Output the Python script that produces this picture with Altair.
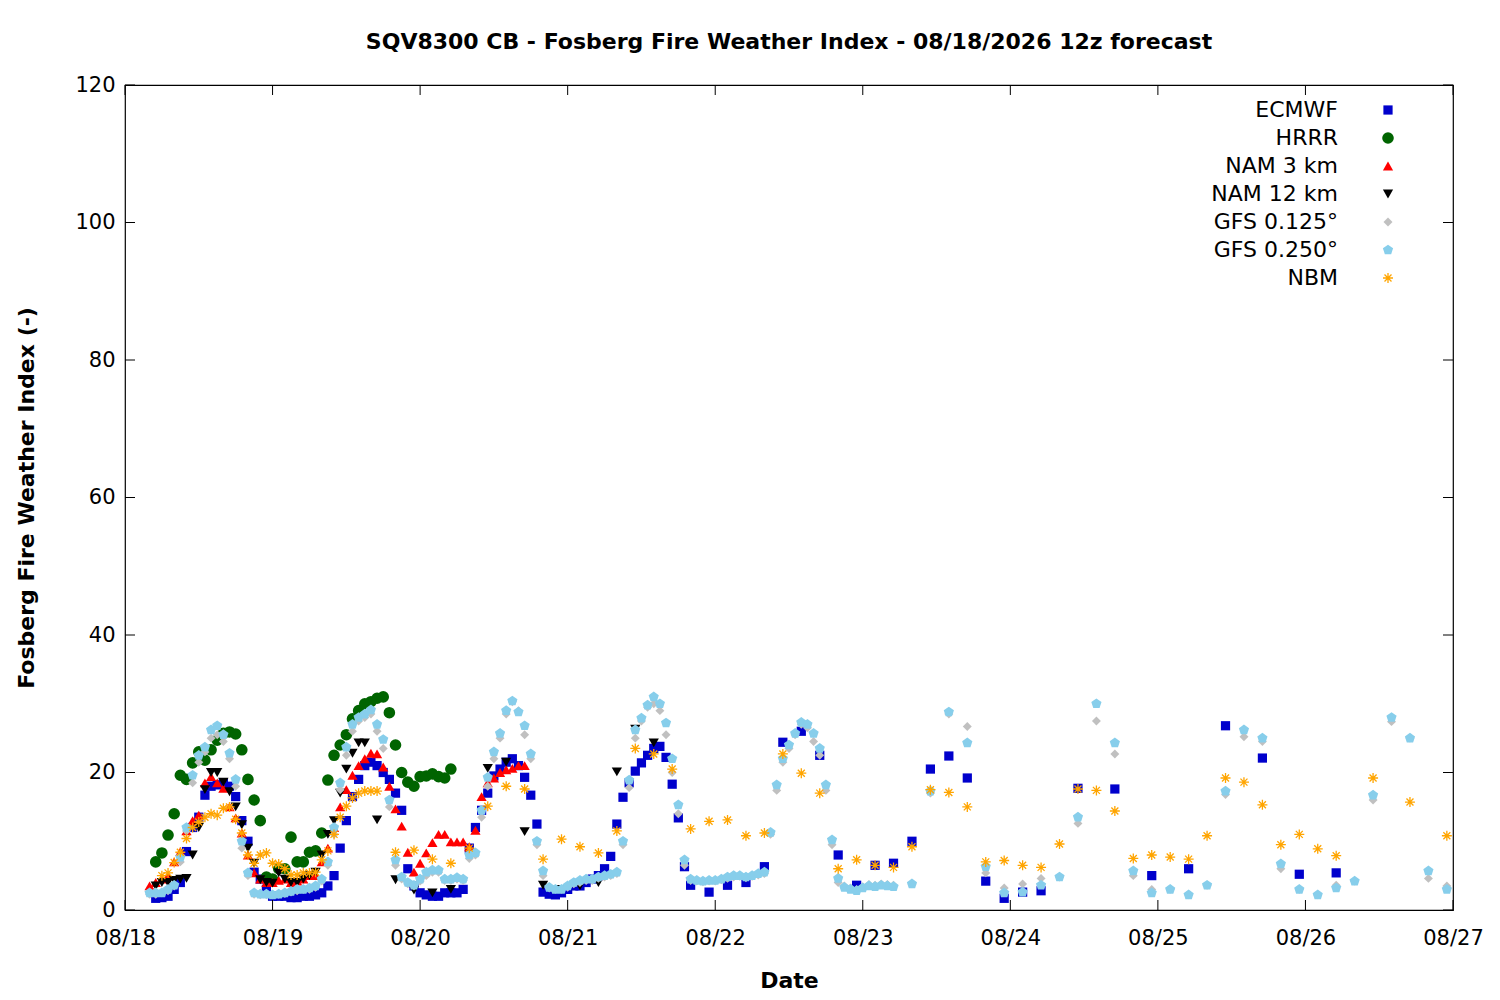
import pandas as pd
import altair as alt

# Hours after 08/18 00z and Fosberg values
series_names = ["ECMWF", "HRRR", "NAM 3 km", "NAM 12 km", "GFS 0.125°", "GFS 0.250°", "NBM"]
colors = ["#0000cc", "#006400", "#ff0000", "#000000", "#c0c0c0", "#87ceeb", "#ffa500"]

ecmwf_hours = list(range(5, 93)) + [95, 98, 101, 104, 107, 110, 113, 116, 119, 122, 125, 128, 131, 134,
                                    137, 140, 143, 146, 149, 155, 161, 167, 173, 179, 185, 191, 197]
ecmwf_vals = [1.7, 1.8, 2, 3, 4, 8.5, 12, 13.5, 16.7, 18, 18.2, 18.5, 18, 16.5, 13, 10, 5.5, 4.5, 3,
              2, 2, 2, 1.8, 1.8, 2, 2, 2.2, 2.5, 3.5,
              5, 9, 13, 16.5, 19, 21, 21.5, 21, 20, 19, 17, 14.5, 6, 3.5,
              2.5, 2.2, 2, 2, 2.5, 2.5, 2.5, 3,
              9, 12, 14.5, 17, 19.5, 20.5, 21.5, 22, 21, 19.3, 16.7, 12.5,
              2.6, 2.3, 2.2, 2.5, 3, 3.5, 3.5, 4, 4.5, 5,
              6, 7.8, 12.5, 16.4, 18.5, 20.2, 21.4, 22.5, 23.5, 23.8, 22.2, 18.3, 13.4, 6.3, 3.6,
              2.6, 3.6, 4, 6.3, 24.4, 26, 22.5, 8, 3.6, 6.5, 6.8, 10, 20.5, 22.4,
              19.2, 4.2, 1.7, 2.6, 2.8, 17.7, 17.6, 5, 6, 26.8, 22.1, 5.2, 5.4]

hrrr_hours = list(range(5, 54))
hrrr_vals = [7, 8.3, 10.9, 14, 19.6, 19, 21.4, 23, 21.8, 23.3, 24.7, 25.7, 25.9, 25.6, 23.3, 19, 16, 13,
             4.8, 4.5, 6, 6, 10.6, 7, 7, 8.4, 8.6, 11.2, 18.9, 22.5, 24, 25.5, 27.8, 29, 30, 30.3, 30.8,
             31, 28.7, 24, 20, 18.6, 18, 19.4, 19.5, 19.8, 19.4, 19.2, 20.5]

nam3_hours = list(range(4, 66))
nam3_vals = [3.5, 4, 4.5, 5, 7, 8.5, 11.5, 13, 13.8, 18.5, 19.4, 18.5, 17.7, 15, 13.4, 11.2, 8, 5.4,
             4.5, 4, 4, 4.3, 4.5, 4, 4.2, 4.5, 5, 5, 7, 9, 12, 15, 17.5, 19.6, 21, 22, 22.8, 22.7,
             20.8, 18, 14.7, 12.2, 8.4, 5.5, 6.8, 8.3, 9.8, 11, 11, 9.9, 9.9, 9.9, 9.2, 11.6, 16.5,
             18.5, 19.2, 20, 20.4, 20.6, 21, 21]

nam12_hours = list(range(5, 40)) + [41, 44, 47, 50, 53, 59, 62, 65, 68, 71, 74, 77, 80, 83, 86]
nam12_vals = [3.5, 4, 4, 4.3, 4.5, 4.6, 8, 12, 17.5, 20, 20, 18.6, 17.2, 15, 12.4, 9, 6.8, 4.4, 4,
              3.9, 5.4, 4.5, 4, 4, 4.5, 5, 5.5, 8, 11, 13, 17, 20.5, 22.8, 24.3, 24.3,
              13.1, 4.4, 2.9, 2.5, 3, 20.6, 21.5, 11.4, 3.6, 3, 3.5, 4, 20.1, 26.3, 24.3]

gfs_hours = list(range(4, 126)) + list(range(128, 216, 3))
gfs125_vals = [2.3, 2.3, 2.5, 2.8, 3.5, 7, 11.5, 18.5, 21.5, 23, 25, 25.5, 24.5, 22, 18, 9, 5, 2.3, 2.2, 2.2,
               2.2, 2.3, 2.4, 2.6, 2.8, 3, 3, 3.3, 4.2, 6.5,
               11, 17.5, 22.5, 26, 27.5, 28, 28.5, 26, 23.5, 15, 6.5, 4.5, 3.8, 3.5, 4.2, 5, 5.5, 5.5,
               4.3, 4.3, 4.5, 4.3,
               7.5, 8, 13.5, 18, 22, 25, 28.5, 30.3, 29, 25.5, 22, 9.5, 5, 3.2, 3, 3, 3.3, 3.8, 4, 4.3,
               4.3, 4.6, 4.8, 5,
               5.3, 9.5, 17.8, 25, 27.5, 29.5, 30, 29, 25.5, 20, 14, 6.5, 4.3, 4.2, 4.1, 4.2, 4.2, 4.4,
               4.6, 4.8, 4.9, 4.7, 4.9, 5.1,
               5.3, 11, 17.4, 21.5, 23.5, 25.5, 27, 26.5, 24.5, 22.5, 17.4, 9.5, 4, 3.5, 3.2, 3, 3.4,
               3.7, 3.6, 3.8, 3.7, 3.6,
               3.8, 17, 28.5, 26.7, 5.4, 3.2, 3.8, 4.6, 4.8, 12.6, 27.5, 22.7, 5, 3, 3, 2.2, 3.6, 16.8,
               25.2, 24.5, 6, 3, 2.2, 3.6, 4.2, 16, 27.4, 25, 4.6, 3.5]
gfs250_vals = [2.5, 2.5, 2.5, 3, 3.6, 7.7, 12, 19.6, 22.5, 23.7, 26.2, 26.8, 25.5, 22.8, 19, 10, 5.4, 2.5,
               2.3, 2.3,
               2.2, 2.3, 2.5, 2.7, 3, 3, 3.2, 3.5, 4.5, 7,
               12, 18.5, 23.7, 27, 28, 28.5, 29.1, 27, 24.8, 16, 7.3, 4.8, 4, 3.6, 4.5, 5.5, 5.8, 5.8,
               4.5, 4.5, 4.7, 4.5,
               8, 8.3, 14.5, 19.3, 23, 25.7, 29, 30.4, 28.8, 26.8, 22.7, 10, 5.7, 3.3, 3, 3, 3.5, 4,
               4.3, 4.5, 4.5, 4.8, 5, 5.2,
               5.5, 10, 18.9, 26.2, 27.9, 29.8, 31, 30, 27.2, 22, 15.3, 7.3, 4.5, 4.3, 4.2, 4.3, 4.3,
               4.5, 4.8, 5, 5, 4.8, 5, 5.3,
               5.5, 11.3, 18.2, 22, 24, 25.7, 27.3, 27, 25.7, 23.5, 18.2, 10.2, 4.6, 3.3, 3, 2.8, 3.2,
               3.5, 3.4, 3.6, 3.5, 3.4,
               3.8, 17.3, 28.8, 24.3, 6.3, 2.5, 2.6, 3.6, 4.8, 13.5, 30, 24.3, 5.7, 2.5, 3, 2.2, 3.6,
               17.3, 26.2, 25, 6.7, 3, 2.2, 3.2, 4.2, 16.7, 28, 25, 5.7, 3]

nbm_hours = list(range(6, 42)) + list(range(44, 198, 3)) + [203, 209, 215]
nbm_vals = [5, 5.4, 6.9, 8.4, 10.4, 12, 12.8, 13.5, 14, 13.8, 14.8, 15, 13.2, 11.2, 8, 6.8, 8, 8.3,
            6.8, 6.7, 6, 5.1, 5.1, 5.4, 5.4, 5.5, 7.3, 8.6, 11, 13.5, 15.1, 16.3, 17, 17.3, 17.3, 17.3,
            8.4, 8.7, 7.4, 6.8, 9, 15.1, 18, 17.6, 7.4, 10.3, 9.2, 8.3, 11.5, 23.5, 22.7, 20.5, 11.8,
            12.9, 13.1, 10.8, 11.2, 22.7, 19.9, 17, 6, 7.3, 6.5, 6.2, 9.2, 17.5, 17.1, 15, 7, 7.2, 6.5,
            6.2, 9.6, 17.6, 17.4, 14.4, 7.5, 8, 7.7, 7.4, 10.8, 19.2, 18.6, 15.3, 9.5, 11, 8.9, 7.9,
            19.2, 15.7, 10.8]

day_hours = list(range(0, 217, 24))
y_ticks = [0, 20, 40, 60, 80, 100, 120]

pentagon = "M0,-1L0.951,-0.309L0.588,0.809L-0.588,0.809L-0.951,-0.309Z"
asterisk = "M-1,0L1,0M0,-1L0,1M-0.7,-0.7L0.7,0.7M-0.7,0.7L0.7,-0.7"

W, H = 1328, 825
FONT = "DejaVu Sans"

x_scale = alt.Scale(domain=[0, 216], nice=False, zero=False)
y_scale = alt.Scale(domain=[0, 120], nice=False)

x_axis = alt.Axis(values=day_hours, labelExpr="'08/' + (18 + datum.value / 24)",
                  ticks=False, domain=False, grid=False, labelFontSize=21, labelPadding=17,
                  titleFontSize=22, titlePadding=22, labelFont=FONT, titleFont=FONT,
                  labelColor="black", labelFlush=False)
y_axis = alt.Axis(values=y_ticks, ticks=False, domain=False, grid=False, labelFontSize=21,
                  labelPadding=10, titleFontSize=22, titlePadding=36, labelFont=FONT,
                  titleFont=FONT, labelColor="black", labelFlush=False)
X_TITLE = "Date"
Y_TITLE = "Fosberg Fire Weather Index (-)"

series_data = {
    "ECMWF": (ecmwf_hours, ecmwf_vals), "HRRR": (hrrr_hours, hrrr_vals),
    "NAM 3 km": (nam3_hours, nam3_vals), "NAM 12 km": (nam12_hours, nam12_vals),
    "GFS 0.125°": (gfs_hours, gfs125_vals), "GFS 0.250°": (gfs_hours, gfs250_vals),
    "NBM": (nbm_hours, nbm_vals)}


def xenc(field="h:Q"):
    return alt.X(field, scale=x_scale, title=X_TITLE, axis=x_axis)


def yenc(field="v:Q"):
    return alt.Y(field, scale=y_scale, title=Y_TITLE, axis=y_axis)


def points(name, shape, color, size, filled):
    hours, vals = series_data[name]
    df = pd.DataFrame({"series": name, "h": hours, "v": vals})
    return alt.Chart(df).mark_point(shape=shape, filled=filled, color=color, size=size,
                                    opacity=1, strokeWidth=1.3).encode(x=xenc(), y=yenc())


styles = [("ECMWF", "square", colors[0], 85, True),
          ("HRRR", "circle", colors[1], 135, True),
          ("NAM 3 km", "triangle-up", colors[2], 105, True),
          ("NAM 12 km", "triangle-down", colors[3], 105, True),
          ("GFS 0.125°", "diamond", colors[4], 80, True),
          ("GFS 0.250°", pentagon, colors[5], 115, True),
          ("NBM", asterisk, colors[6], 100, False)]

layers = [points(*s) for s in styles]

# inward ticks as in gnuplot
ytick_df = pd.DataFrame({"v": y_ticks})
xtick_df = pd.DataFrame({"h": day_hours})
ticks = [
    alt.Chart(ytick_df).mark_rule(color="black").encode(y=yenc(), x=alt.value(0), x2=alt.value(10)),
    alt.Chart(ytick_df).mark_rule(color="black").encode(y=yenc(), x=alt.value(W - 10), x2=alt.value(W)),
    alt.Chart(xtick_df).mark_rule(color="black").encode(x=xenc(), y=alt.value(H), y2=alt.value(H - 10)),
    alt.Chart(xtick_df).mark_rule(color="black").encode(x=xenc(), y=alt.value(0), y2=alt.value(10)),
]

main = alt.layer(*layers, *ticks)

# legend, labels right-aligned with the symbol on the right
leg_df = pd.DataFrame({"series": series_names})
leg_y = alt.Y("series:N", scale=alt.Scale(domain=series_names, range=[25, 193], padding=0), axis=None)
legend = [alt.Chart(leg_df).mark_text(align="right", baseline="middle", fontSize=22, font=FONT,
                                      color="black").encode(text="series:N", x=alt.value(1213), y=leg_y)]
for name, shape, color, size, filled in styles:
    d = pd.DataFrame({"series": [name]})
    legend.append(alt.Chart(d).mark_point(shape=shape, filled=filled, color=color, size=size,
                                          opacity=1, strokeWidth=1.3).encode(x=alt.value(1263), y=leg_y))
leg = alt.layer(*legend)

chart = alt.layer(main, leg).resolve_scale(y="independent").properties(
    width=W, height=H,
    title=alt.TitleParams("SQV8300 CB - Fosberg Fire Weather Index - 08/18/2026 12z forecast",
                          fontSize=22, font=FONT, fontWeight="bold", offset=20, color="black"),
    padding={"left": 117, "top": 77, "right": 30, "bottom": 80},
    autosize=alt.AutoSizeParams(type="none"),
).configure_view(stroke="black", strokeWidth=1.2).configure_axis(titleFontWeight="bold")

chart.save("out.html", embed_options={"renderer": "svg", "actions": False})
